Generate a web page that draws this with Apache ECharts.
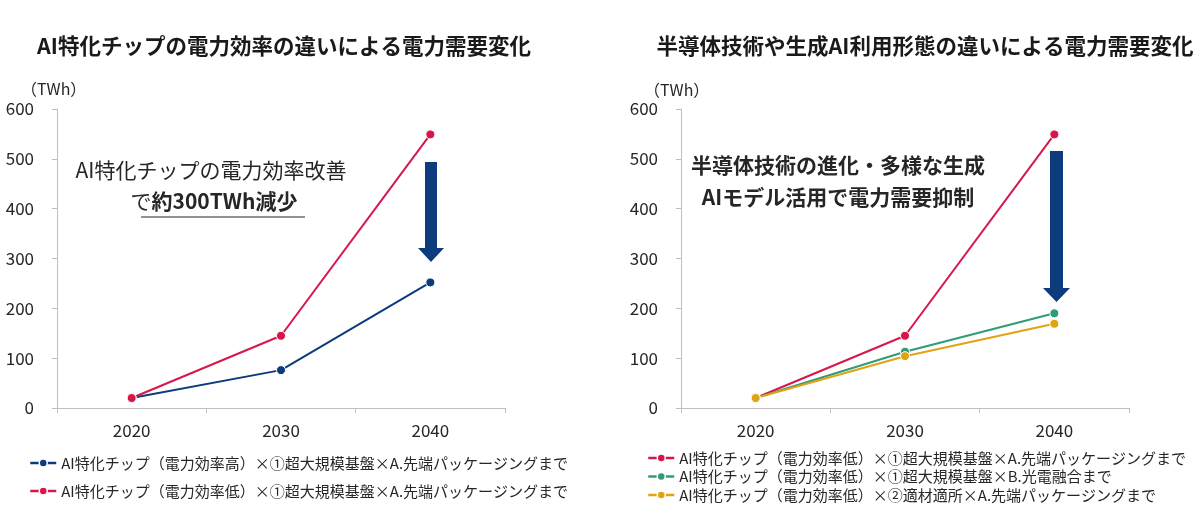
<!DOCTYPE html>
<html>
<head>
<meta charset="utf-8">
<script src="https://cdn.jsdelivr.net/npm/echarts@6/dist/echarts.min.js"></script>
<style>
html,body{margin:0;padding:0;background:#fff;}
#c{width:1200px;height:523px;}
</style>
</head>
<body>
<div id="c"></div>
<script>
// ---- data ----
const categories = ['2020', '2030', '2040'];
const leftHighEff = [20, 76, 252];
const leftLowEff = [20, 145, 549];
const rightLowEff = [20, 145, 549];
const rightOptical = [20, 113, 190];
const rightAppropriate = [20, 104, 169];
const yMin = 0, yMax = 600, yInterval = 100;

const nameHigh = 'AI特化チップ（電力効率高）×①超大規模基盤×A.先端パッケージングまで';
const nameLow = 'AI特化チップ（電力効率低）×①超大規模基盤×A.先端パッケージングまで';
const nameOptical = 'AI特化チップ（電力効率低）×①超大規模基盤×B.光電融合まで';
const nameAppropriate = 'AI特化チップ（電力効率低）×②適材適所×A.先端パッケージングまで';

const leftTitle = 'AI特化チップの電力効率の違いによる電力需要変化';
const rightTitle = '半導体技術や生成AI利用形態の違いによる電力需要変化';
const unitLabel = '（TWh）';

const FONT = '"Noto Sans CJK JP", "Noto Sans", sans-serif';
const NAVY = '#0C3B7E', RED = '#D7164B', GREEN = '#2F9B77', YELLOW = '#E2A312';
const AXIS = '#BFBFBF', TXT = '#262626';

const chart = echarts.init(document.getElementById('c'), null, {renderer: 'canvas'});

function xAxisCfg(gi) {
  return {
    type: 'category', gridIndex: gi, data: categories, boundaryGap: true,
    axisLine: {lineStyle: {color: AXIS, width: 1}},
    axisTick: {show: true, length: 5, lineStyle: {color: AXIS}},
    axisLabel: {color: TXT, fontSize: 17, fontFamily: FONT, margin: 14}
  };
}
function yAxisCfg(gi) {
  return {
    type: 'value', gridIndex: gi, min: yMin, max: yMax, interval: yInterval,
    axisLine: {show: true, lineStyle: {color: AXIS, width: 1}},
    axisTick: {show: true, length: 5, lineStyle: {color: AXIS}},
    splitLine: {show: false},
    axisLabel: {color: TXT, fontSize: 17, fontFamily: FONT, margin: 23}
  };
}
function lineSeries(name, data, color, gi) {
  return {
    type: 'line', name: name, data: data, xAxisIndex: gi, yAxisIndex: gi,
    symbol: 'circle', symbolSize: 9, showSymbol: true,
    lineStyle: {color: color, width: 2},
    itemStyle: {color: color, borderColor: '#fff', borderWidth: 1},
    emphasis: {disabled: true}, animation: false
  };
}

const legendText = {color: TXT, fontSize: 15, fontFamily: FONT, lineHeight: 18};

const option = {
  backgroundColor: '#fff',
  animation: false,
  title: [
    {text: leftTitle, left: 279, top: 30, textAlign: 'center',
     textStyle: {fontSize: 21.5, fontWeight: 'bold', color: '#1a1a1a', fontFamily: FONT}},
    {text: rightTitle, left: 920, top: 30, textAlign: 'center',
     textStyle: {fontSize: 21.5, fontWeight: 'bold', color: '#1a1a1a', fontFamily: FONT}},
    {text: unitLabel, left: 16, top: 76,
     textStyle: {fontSize: 16, fontWeight: 'normal', color: TXT, fontFamily: FONT}},
    {text: unitLabel, left: 639, top: 77,
     textStyle: {fontSize: 16, fontWeight: 'normal', color: TXT, fontFamily: FONT}}
  ],
  grid: [
    {left: 57, top: 109, width: 448, height: 299, containLabel: false},
    {left: 681, top: 109, width: 448, height: 299, containLabel: false}
  ],
  xAxis: [xAxisCfg(0), xAxisCfg(1)],
  yAxis: [yAxisCfg(0), yAxisCfg(1)],
  legend: [
    {orient: 'vertical', left: 24, top: 449, itemGap: 10, itemWidth: 26, itemHeight: 10,
     data: [nameHigh, nameLow], textStyle: legendText, selectedMode: false,
     itemStyle: {borderColor: '#fff', borderWidth: 1.5}, lineStyle: {width: 2.5}},
    {orient: 'vertical', left: 642, top: 444, itemGap: 0.5, itemWidth: 26, itemHeight: 10,
     data: [nameLow, nameOptical, nameAppropriate], textStyle: legendText, selectedMode: false,
     itemStyle: {borderColor: '#fff', borderWidth: 1.5}, lineStyle: {width: 2.5}}
  ],
  series: [
    lineSeries(nameHigh, leftHighEff, NAVY, 0),
    lineSeries(nameLow, leftLowEff, RED, 0),
    lineSeries(nameLow, rightLowEff, RED, 1),
    lineSeries(nameOptical, rightOptical, GREEN, 1),
    lineSeries(nameAppropriate, rightAppropriate, YELLOW, 1)
  ],
  graphic: [
    // left annotation
    {type: 'text', x: 211, y: 170, style: {
      text: 'AI特化チップの電力効率改善', font: '21px ' + FONT, fill: TXT,
      align: 'center', verticalAlign: 'middle'}},
    {type: 'text', x: 214, y: 201, style: {
      text: '{n|で}{b|約300TWh減少}', align: 'center', verticalAlign: 'middle', fill: TXT,
      rich: {
        n: {fontSize: 21, fontFamily: FONT, fill: TXT},
        b: {fontSize: 21, fontFamily: FONT, fontWeight: 'bold', fill: TXT}
      }}},
    {type: 'line', shape: {x1: 141, y1: 217, x2: 305, y2: 217}, style: {stroke: TXT, lineWidth: 1.2}},
    // right annotation
    {type: 'text', x: 838, y: 165, style: {
      text: '半導体技術の進化・多様な生成', font: 'bold 21px ' + FONT, fill: TXT,
      align: 'center', verticalAlign: 'middle'}},
    {type: 'text', x: 838, y: 197, style: {
      text: 'AIモデル活用で電力需要抑制', font: 'bold 21px ' + FONT, fill: TXT,
      align: 'center', verticalAlign: 'middle'}},
    // arrows
    {type: 'polygon', shape: {points: [[425,162],[437,162],[437,248],[444,248],[431,262],[418,248],[425,248]]},
     style: {fill: NAVY}},
    {type: 'polygon', shape: {points: [[1050,151],[1063,151],[1063,288],[1070,288],[1056.5,302],[1043,288],[1050,288]]},
     style: {fill: NAVY}}
  ]
};
chart.setOption(option);
</script>
</body>
</html>
